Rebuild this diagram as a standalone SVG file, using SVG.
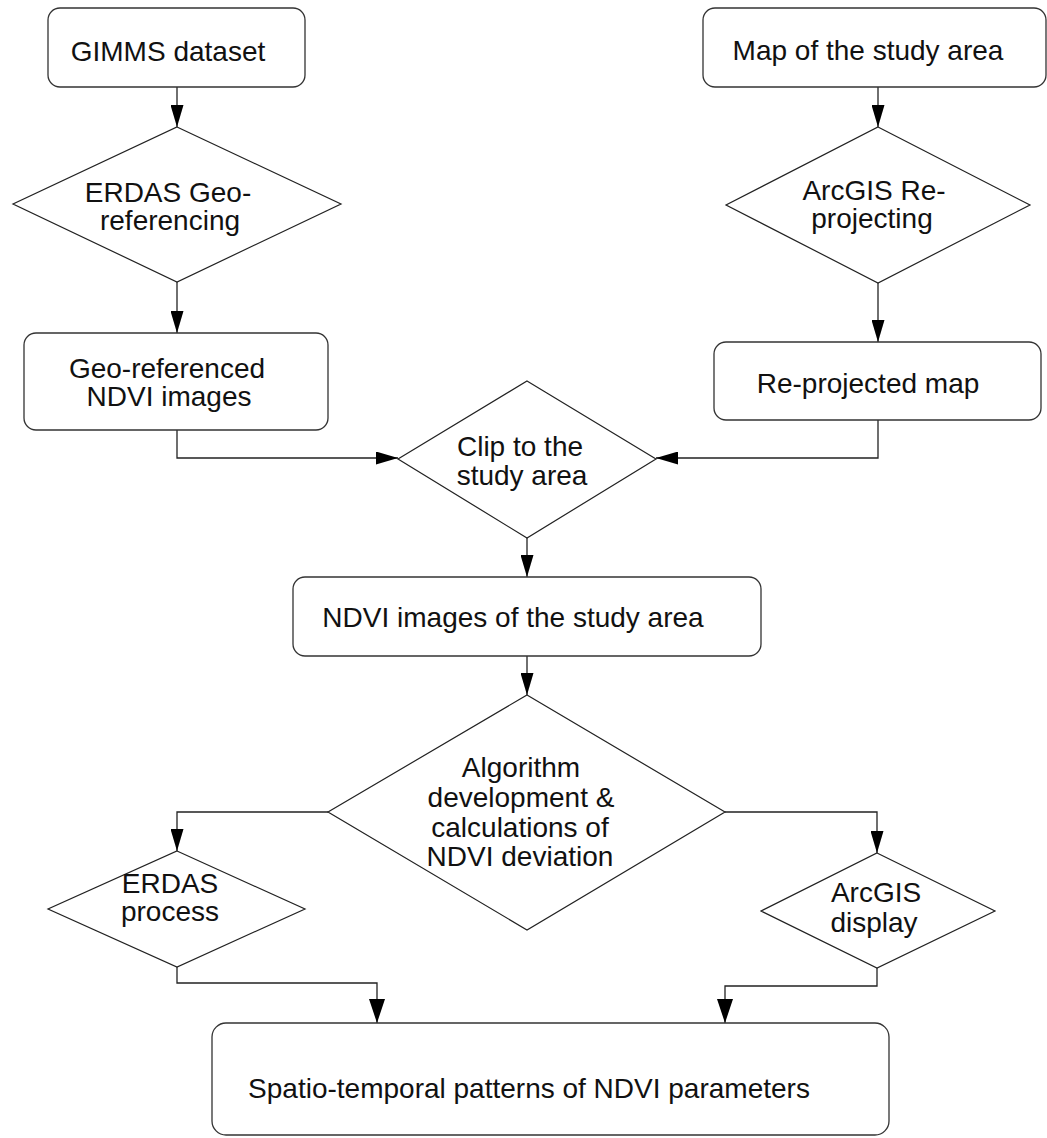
<svg xmlns="http://www.w3.org/2000/svg" width="1047" height="1138" viewBox="0 0 1047 1138">
<defs>
<style>
.box{fill:#fff;stroke:#333;stroke-width:1.3}
.dia{fill:#fff;stroke:#222;stroke-width:1.2}
.conn{fill:none;stroke:#222;stroke-width:1.3}
text{font-family:"Liberation Sans",Arial,sans-serif;font-size:28px;fill:#111;text-anchor:middle}
</style>
<marker id="ah" markerUnits="userSpaceOnUse" markerWidth="22" markerHeight="13" refX="22" refY="6.5" orient="auto">
<path d="M0,0 L22,6.5 L0,13 z" fill="#000"/>
</marker>
<marker id="ahb" markerUnits="userSpaceOnUse" markerWidth="24" markerHeight="16" refX="24" refY="8" orient="auto">
<path d="M0,0 L24,8 L0,16 z" fill="#000"/>
</marker>
</defs>
<rect width="1047" height="1138" fill="#fff"/>

<g id="connectors">
<path class="conn" d="M177,87 L177,127" marker-end="url(#ah)"/>
<path class="conn" d="M177,282 L177,333" marker-end="url(#ah)"/>
<path class="conn" d="M878,87 L878,127" marker-end="url(#ah)"/>
<path class="conn" d="M878,283 L878,342" marker-end="url(#ah)"/>
<path class="conn" d="M177,430 L177,458 L398,458" marker-end="url(#ah)"/>
<path class="conn" d="M878,420 L878,458 L656,458" marker-end="url(#ah)"/>
<path class="conn" d="M527,538 L527,577" marker-end="url(#ah)"/>
<path class="conn" d="M527,656 L527,695" marker-end="url(#ah)"/>
<path class="conn" d="M328,812 L177,812 L177,851" marker-end="url(#ah)"/>
<path class="conn" d="M725,812 L877,812 L877,853" marker-end="url(#ah)"/>
<path class="conn" d="M177,967 L177,983 L377,983 L377,1023" marker-end="url(#ahb)"/>
<path class="conn" d="M877,968 L877,986 L725,986 L725,1023" marker-end="url(#ahb)"/>
</g>

<g id="gimms">
<rect class="box" x="48" y="8" width="257" height="79" rx="12"/>
<text x="168" y="61">GIMMS dataset</text>
</g>

<g id="erdas-georef">
<polygon class="dia" points="177,127 341,204 177,282 13,204"/>
<text x="168" y="202">ERDAS Geo-</text>
<text x="170" y="230">referencing</text>
</g>

<g id="georef-ndvi">
<rect class="box" x="24" y="333" width="304" height="97" rx="12"/>
<text x="167" y="378">Geo-referenced</text>
<text x="169" y="406">NDVI images</text>
</g>

<g id="map-study">
<rect class="box" x="703" y="8" width="343" height="79" rx="12"/>
<text x="868" y="60">Map of the study area</text>
</g>

<g id="arcgis-reproj">
<polygon class="dia" points="878,127 1030,205 878,283 726,205"/>
<text x="874" y="200">ArcGIS Re-</text>
<text x="872" y="228">projecting</text>
</g>

<g id="reprojected-map">
<rect class="box" x="714" y="342" width="327" height="78" rx="12"/>
<text x="868" y="393">Re-projected map</text>
</g>

<g id="clip">
<polygon class="dia" points="527,381 656,459 527,538 398,459"/>
<text x="520" y="456">Clip to the</text>
<text x="522" y="485">study area</text>
</g>

<g id="ndvi-study">
<rect class="box" x="293" y="577" width="468" height="79" rx="12"/>
<text x="513" y="627">NDVI images of the study area</text>
</g>

<g id="algorithm">
<polygon class="dia" points="527,695 725,812 527,930 328,812"/>
<text x="521" y="777">Algorithm</text>
<text x="521" y="807">development &amp;</text>
<text x="520" y="837">calculations of</text>
<text x="520" y="866">NDVI deviation</text>
</g>

<g id="erdas-process">
<polygon class="dia" points="177,851 305,909 177,967 48,909"/>
<text x="170" y="893">ERDAS</text>
<text x="170" y="921">process</text>
</g>

<g id="arcgis-display">
<polygon class="dia" points="877,853 995,911 877,968 761,911"/>
<text x="876" y="902">ArcGIS</text>
<text x="874" y="932">display</text>
</g>

<g id="spatio">
<rect class="box" x="212" y="1023" width="677" height="112" rx="14"/>
<text x="529" y="1098">Spatio-temporal patterns of NDVI parameters</text>
</g>
</svg>
